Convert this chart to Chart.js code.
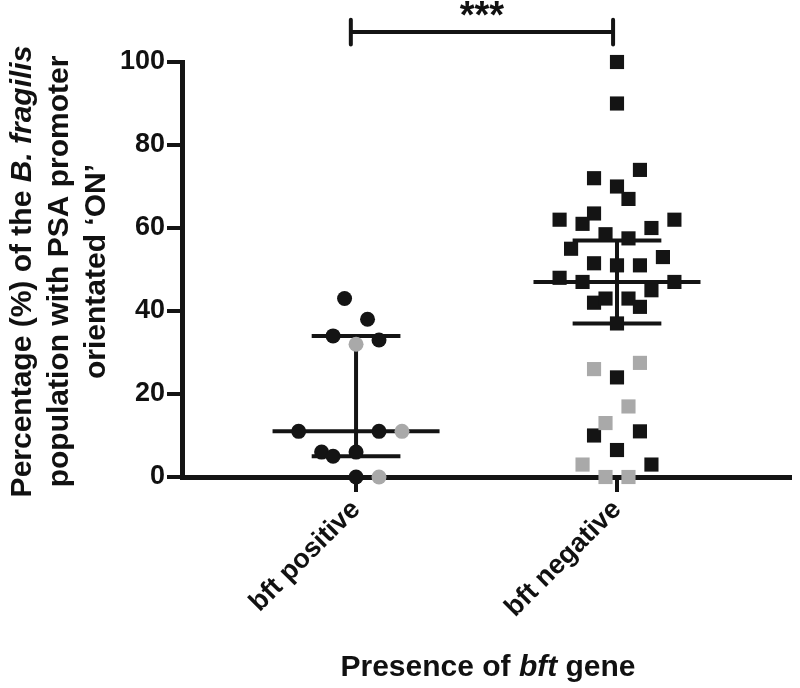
<!DOCTYPE html>
<html>
<head>
<meta charset="utf-8">
<script src="https://cdn.jsdelivr.net/npm/chart.js@4"></script>
<style>
  body { margin: 0; background: #fff; }
</style>
</head>
<body>
<canvas id="myChart" width="800" height="688"></canvas>
<script>
// categories
const groupLabels = ['bft positive', 'bft negative'];

// bft positive (circles): values and column slot in the scatter
const posBlackValues = [43, 38, 34, 33, 11, 11, 6, 5, 6, 0];
const posBlackSlots  = [-1, 1, -2, 2, -5, 2, -3, -2, 0, 0];
const posGreyValues  = [32, 11, 0];
const posGreySlots   = [0, 4, 2];

// bft negative (squares)
const negBlackValues = [100, 90, 74, 72, 70, 67, 62, 63.5, 61, 60, 62, 58.5, 57.5,
                        55, 51.5, 51, 51, 53, 48, 47, 47, 45, 42, 43, 43, 41, 37,
                        24, 10, 11, 6.5, 3];
const negBlackSlots  = [0, 0, 2, -2, 0, 1, -5, -2, -3, 3, 5, -1, 1,
                        -4, -2, 0, 2, 4, -5, -3, 5, 3, -2, -1, 1, 2, 0,
                        0, -2, 2, 0, 3];
const negGreyValues  = [26, 27.5, 17, 13, 3, 0, 0];
const negGreySlots   = [-2, 2, 1, -1, -3, -1, 1];

// median with interquartile range
const medians = [11, 47];
const lowerQ  = [5, 37];
const upperQ  = [34, 57];

const significance = '***';

const BLACK = '#141414';
const GREY = '#a9a9a9';
const SLOT = 0.044;
const MED_HALF = 0.32;
const WHISK_HALF = 0.17;
const FONT = '"Liberation Sans", Arial, sans-serif';

function toPoints(group, values, slots) {
  return values.map((v, i) => ({ x: group + slots[i] * SLOT, y: v }));
}

// median / IQR lines as segments separated by gaps
const summaryLines = [];
medians.forEach((m, i) => {
  const g = i + 1;
  summaryLines.push({ x: g - MED_HALF, y: m }, { x: g + MED_HALF, y: m }, { x: g, y: null });
  summaryLines.push({ x: g - WHISK_HALF, y: upperQ[i] }, { x: g + WHISK_HALF, y: upperQ[i] }, { x: g, y: null });
  summaryLines.push({ x: g - WHISK_HALF, y: lowerQ[i] }, { x: g + WHISK_HALF, y: lowerQ[i] }, { x: g, y: null });
  summaryLines.push({ x: g, y: lowerQ[i] }, { x: g, y: upperQ[i] }, { x: g, y: null });
});

// significance bracket
const brY = 107.2, brL = 0.98, brR = 1.985;
const bracket = [
  { x: brL, y: brY - 3 }, { x: brL, y: brY + 3 }, { x: brL, y: null },
  { x: brL, y: brY }, { x: brR, y: brY }, { x: brR, y: null },
  { x: brR, y: brY - 3 }, { x: brR, y: brY + 3 }
];

function drawRich(ctx, parts, x, y, size) {
  let total = 0;
  parts.forEach(p => {
    ctx.font = (p[1] ? 'italic ' : '') + 'bold ' + size + 'px ' + FONT;
    total += ctx.measureText(p[0]).width;
  });
  let cx = x - total / 2;
  parts.forEach(p => {
    ctx.font = (p[1] ? 'italic ' : '') + 'bold ' + size + 'px ' + FONT;
    ctx.fillText(p[0], cx, y);
    cx += ctx.measureText(p[0]).width;
  });
}

const titlesPlugin = {
  id: 'titles',
  afterDraw(chart) {
    const ctx = chart.ctx;
    const area = chart.chartArea;
    const xs = chart.scales.x, ys = chart.scales.y;
    ctx.save();
    ctx.fillStyle = '#111';
    ctx.textAlign = 'left';
    ctx.textBaseline = 'middle';
    // y title, three lines
    const yLines = [
      [['Percentage (%) of the ', false], ['B. fragilis', true]],
      [['population with PSA promoter', false]],
      [['orientated \u2018ON\u2019', false]]
    ];
    const cy = (area.top + area.bottom) / 2 + 2;
    yLines.forEach((parts, i) => {
      ctx.save();
      ctx.translate(23 + i * 37, cy);
      ctx.rotate(-Math.PI / 2);
      drawRich(ctx, parts, 0, 0, 30);
      ctx.restore();
    });
    // x title
    drawRich(ctx, [['Presence of ', false], ['bft', true], [' gene', false]],
      (area.left + area.right) / 2 + 2, 668, 30);
    // stars
    ctx.textAlign = 'center';
    ctx.textBaseline = 'alphabetic';
    ctx.font = 'bold 38px ' + FONT;
    ctx.fillText(significance, xs.getPixelForValue((brL + brR) / 2), ys.getPixelForValue(brY) - 4);
    ctx.restore();
  }
};

new Chart(document.getElementById('myChart'), {
  type: 'scatter',
  data: {
    datasets: [
      { data: toPoints(1, posGreyValues, posGreySlots), pointStyle: 'circle', pointRadius: 7.5,
        backgroundColor: GREY, borderWidth: 0, order: 0, clip: false },
      { data: toPoints(1, posBlackValues, posBlackSlots), pointStyle: 'circle', pointRadius: 7.5,
        backgroundColor: BLACK, borderWidth: 0, order: 0, clip: false },
      { data: toPoints(2, negGreyValues, negGreySlots), pointStyle: 'rect', pointRadius: 10,
        backgroundColor: GREY, borderWidth: 0, order: 0, clip: false },
      { data: toPoints(2, negBlackValues, negBlackSlots), pointStyle: 'rect', pointRadius: 10,
        backgroundColor: BLACK, borderWidth: 0, order: 0, clip: false },
      { data: summaryLines, showLine: true, spanGaps: false, pointRadius: 0, borderColor: BLACK,
        borderWidth: 4, order: 1, clip: false },
      { data: bracket, showLine: true, spanGaps: false, pointRadius: 0, borderColor: BLACK,
        borderWidth: 4, borderCapStyle: 'round', order: 1, clip: false }
    ]
  },
  options: {
    responsive: false,
    animation: false,
    layout: { padding: { left: 110, right: 3, top: 62, bottom: 61 } },
    plugins: { legend: { display: false }, tooltip: { enabled: false } },
    scales: {
      x: {
        type: 'linear',
        min: 0.333,
        max: 2.663,
        afterBuildTicks: (s) => { s.ticks = [{ value: 1 }, { value: 2 }]; },
        afterFit: (s) => { s.height = 150; },
        grid: { drawOnChartArea: false, tickLength: 15, lineWidth: 4, color: BLACK },
        border: { color: BLACK, width: 5 },
        ticks: {
          callback: (v) => groupLabels[Math.round(v) - 1],
          autoSkip: false,
          minRotation: 45,
          maxRotation: 45,
          padding: 2,
          color: '#111',
          font: { family: FONT, size: 27, weight: 'bold' }
        }
      },
      y: {
        min: 0,
        max: 100,
        afterFit: (s) => { s.width = 72; },
        grid: { drawOnChartArea: false, tickLength: 15, lineWidth: 4, color: BLACK },
        border: { color: BLACK, width: 5 },
        ticks: {
          stepSize: 20,
          padding: 2,
          color: '#111',
          font: { family: FONT, size: 27, weight: 'bold' }
        }
      }
    }
  },
  plugins: [titlesPlugin]
});
</script>
</body>
</html>
